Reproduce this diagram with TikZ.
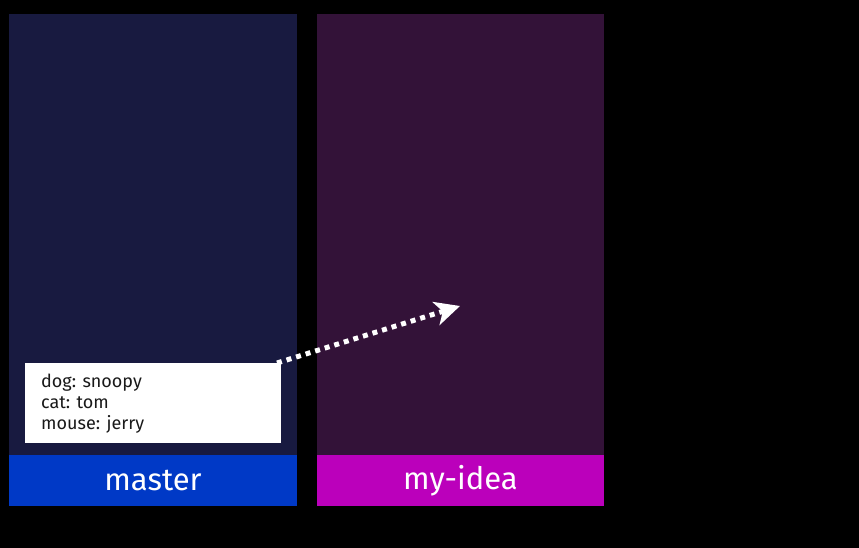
\documentclass[tikz,border=0pt]{standalone}
\usepackage{fontspec}
\setmainfont{Fira Sans}
\usetikzlibrary{arrows.meta}
\definecolor{leftdark}{HTML}{181A40}
\definecolor{rightdark}{HTML}{331238}
\definecolor{masterblue}{HTML}{0039C6}
\definecolor{ideamag}{HTML}{BB00BB}
\begin{document}
\begin{tikzpicture}[x=1pt,y=-1pt,
  panel/.style={inner sep=0pt, outer sep=0pt, minimum width=288pt, minimum height=441pt, anchor=north west},
  bar/.style={inner sep=0pt, outer sep=0pt, minimum width=288pt, minimum height=51pt, anchor=north west, text=white, font=\fontsize{31}{34}\selectfont},
  filebox/.style={fill=white, inner sep=0pt, outer sep=0pt, minimum width=256pt, minimum height=80pt, anchor=north west},
  filetext/.style={anchor=north west, inner sep=0pt, align=left, font=\fontsize{18}{21}\selectfont, text=black!90}]
\fill[black] (0,0) rectangle (859,548);
\useasboundingbox (0,0) rectangle (859,548);
\node[panel, fill=leftdark] (leftp) at (9,14) {};
\node[panel, fill=rightdark, minimum width=287pt] (rightp) at (317,14) {};
\node[bar, fill=masterblue] (master) at (9,455) {master};
\node[bar, fill=ideamag, minimum width=287pt] (idea) at (317,455) {my-idea};
\node[filebox] (file) at (25,363) {};
\node[filetext] (ftext) at (41,374) {dog: snoopy\\cat: tom\\mouse: jerry};
\coordinate (target) at (460,306);
\draw[white, line width=5pt, dash pattern=on 5pt off 5pt, -{Stealth[length=25pt, width=24pt, inset=7pt]}] (file.north east) ++(-4,0) -- (target);
\end{tikzpicture}
\end{document}
